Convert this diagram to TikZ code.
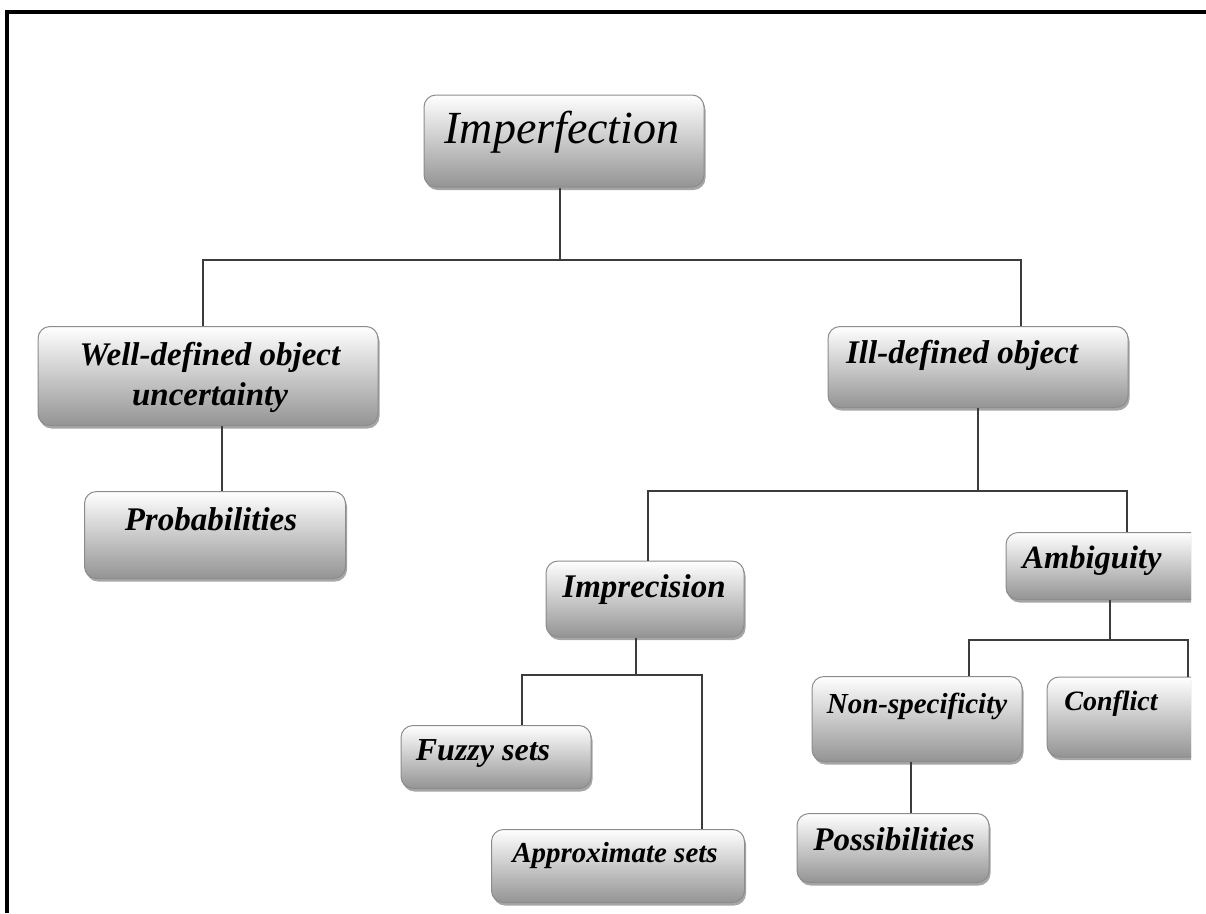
\documentclass[tikz,border=0pt]{standalone}
\usepackage{fontspec}
\setmainfont{Liberation Serif}
\usetikzlibrary{shadows}

\definecolor{connclr}{HTML}{3C3C3C}
\definecolor{boxedge}{HTML}{8C8C8C}

\tikzset{
  box/.style={draw=boxedge, line width=1pt, rounded corners=12pt,
    top color=white, bottom color=black!42, inner sep=0pt,
    drop shadow={shadow xshift=1.5pt, shadow yshift=-3pt, opacity=.35, fill=black}},
  lbl/.style={inner sep=0pt, anchor=base, text=black,
    font=\fontsize{33}{38}\selectfont\bfseries\itshape},
  lblsmall/.style={lbl, font=\fontsize{29}{34}\selectfont\bfseries\itshape},
  conn/.style={draw=connclr, line width=1.8pt},
  frameline/.style={draw=black, line width=4pt}
}

\begin{document}
\begin{tikzpicture}[x=1pt, y=-1pt]
\useasboundingbox (0,0) rectangle (1206,913);

% outer frame (top and left edges)
\draw[frameline] (7,913) -- (7,12) -- (1206,12);

\begin{scope}
\clip (0,0) rectangle (1191,913);

% junction points of the tree
\coordinate (jA)  at (560,260);
\coordinate (jAL) at (203,260);
\coordinate (jAR) at (1021,260);
\coordinate (jB)  at (222,460);
\coordinate (jC)  at (978,491);
\coordinate (jCL) at (648,491);
\coordinate (jCR) at (1127,491);
\coordinate (jD)  at (1110,640);
\coordinate (jDL) at (969,640);
\coordinate (jDR) at (1188,640);
\coordinate (jE)  at (636,675);
\coordinate (jEL) at (522,675);
\coordinate (jER) at (702,675);
\coordinate (jF)  at (911,790);

% boxes
\node[box, minimum width=280pt, minimum height=92pt]  (imp)     at (564,141)   {};
\node[box, minimum width=340pt, minimum height=99pt]  (well)    at (208,376)   {};
\node[box, minimum width=261pt, minimum height=87pt]  (prob)    at (215,535)   {};
\node[box, minimum width=300pt, minimum height=81pt]  (ill)     at (978,367)   {};
\node[box, minimum width=198pt, minimum height=76pt]  (imprec)  at (645,599)   {};
\node[box, minimum width=200pt, minimum height=67pt]  (amb)     at (1106,566)  {};
\node[box, minimum width=210pt, minimum height=85pt]  (nonspec) at (917,719)   {};
\node[box, minimum width=180pt, minimum height=80pt]  (confl)   at (1137,717)  {};
\node[box, minimum width=192pt, minimum height=69pt]  (poss)    at (893,848)   {};
\node[box, minimum width=190pt, minimum height=63pt]  (fuzzy)   at (496,757)   {};
\node[box, minimum width=253pt, minimum height=73pt]  (approx)  at (618,866)   {};

% labels
\node[lbl, font=\fontsize{46}{52}\selectfont\itshape] (imp-t) at (562,143) {Imperfection};
\node[lbl] (well-t1)   at (210,365) {Well-defined object};
\node[lbl] (well-t2)   at (210,405) {uncertainty};
\node[lbl] (prob-t)    at (211,530) {Probabilities};
\node[lbl] (ill-t)     at (962,363) {Ill-defined object};
\node[lbl] (imprec-t)  at (644,597) {Imprecision};
\node[lbl, font=\fontsize{32.5}{38}\selectfont\bfseries\itshape] (amb-t) at (1092,568) {Ambiguity};
\node[lblsmall] (nonspec-t) at (917,713) {Non-specificity};
\node[lblsmall, font=\fontsize{28}{34}\selectfont\bfseries\itshape] (confl-t) at (1111,710) {Conflict};
\node[lbl] (poss-t)    at (894,850) {Possibilities};
\node[lbl, font=\fontsize{32}{38}\selectfont\bfseries\itshape] (fuzzy-t) at (483,760) {Fuzzy sets};
\node[lblsmall] (approx-t)  at (615,862) {Approximate sets};

% connectors
\draw[conn] (imp.south -| jA) -- (jA);
\draw[conn] (well.north -| jAL) -- (jAL) -- (jAR) -- (ill.north -| jAR);
\draw[conn] (well.south -| jB) -- (prob.north -| jB);
\draw[conn] (ill.south -| jC) -- (jC);
\draw[conn] (imprec.north -| jCL) -- (jCL) -- (jCR) -- (amb.north -| jCR);
\draw[conn] (amb.south -| jD) -- (jD);
\draw[conn] (nonspec.north -| jDL) -- (jDL) -- (jDR) -- (confl.north -| jDR);
\draw[conn] (nonspec.south -| jF) -- (poss.north -| jF);
\draw[conn] (imprec.south -| jE) -- (jE);
\draw[conn] (fuzzy.north -| jEL) -- (jEL) -- (jER) -- (approx.north -| jER);
\end{scope}
\end{tikzpicture}
\end{document}
